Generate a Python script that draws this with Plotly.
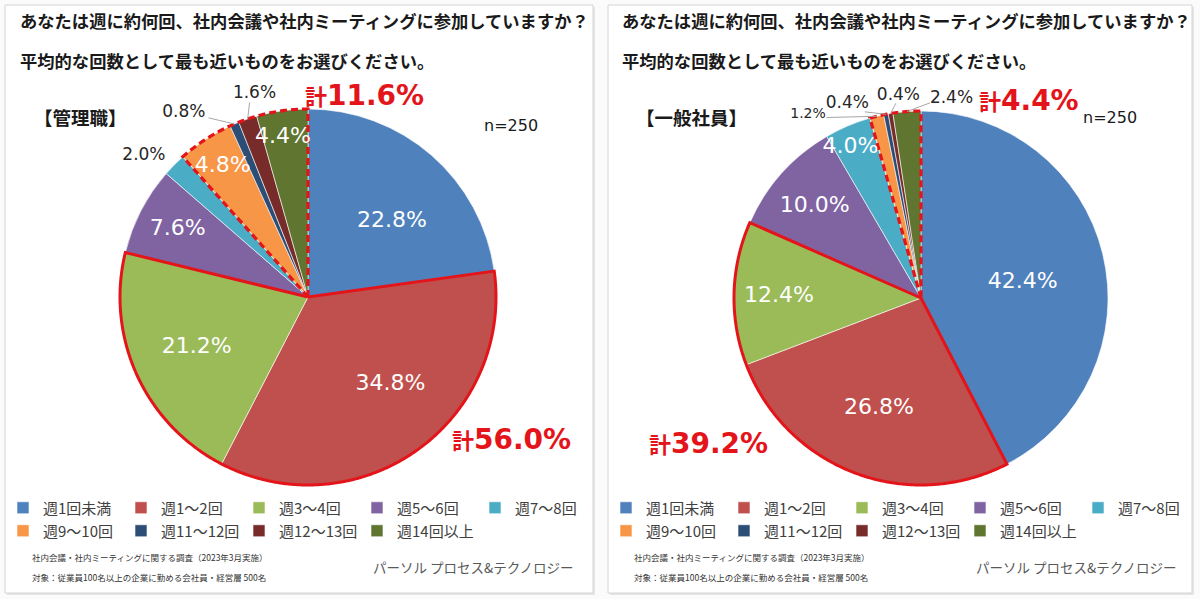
import numpy as np
import plotly.graph_objects as go

# ---------------- data ----------------
CATEGORIES = ["週1回未満", "週1～2回", "週3～4回", "週5～6回", "週7～8回",
              "週9～10回", "週11～12回", "週12～13回", "週14回以上"]
MANAGER_PCT = [22.8, 34.8, 21.2, 7.6, 2.0, 4.8, 0.8, 1.6, 4.4]
STAFF_PCT = [42.4, 26.8, 12.4, 10.0, 4.0, 1.2, 0.4, 0.4, 2.4]
N_MANAGER = 250
N_STAFF = 250
PANEL_NAMES = ["【管理職】", "【一般社員】"]
TITLE_LINE1 = "あなたは週に約何回、社内会議や社内ミーティングに参加していますか？"
TITLE_LINE2 = "平均的な回数として最も近いものをお選びください。"
SOLID_GROUP = [1, 2]        # categories totalled with solid outline
DASH_GROUP = [5, 6, 7, 8]   # categories totalled with dashed outline
FOOTNOTE1 = "社内会議・社内ミーティングに関する調査（2023年3月実施）"
FOOTNOTE2 = "対象：従業員100名以上の企業に勤める会社員・経営層 500名"
BRAND = "パーソル プロセス&テクノロジー"

# ---------------- style ----------------
W, H = 1200, 599
COLORS = ["#4F81BD", "#C0504D", "#9BBB59", "#8064A2", "#4BACC6",
          "#F79646", "#2C4D75", "#772C2A", "#5F7530"]
RED = "#E3151A"
JP = "Noto Sans CJK JP"
NUM = "DejaVu Sans"
RMAX = 1.25

# label placement (r, angle shift from slice middle, outside?, leader end (r, shift) or None, size)
LABEL_STYLE = [
    [(0.60, 7, False, None, 22), (0.64, -8, False, None, 22), (0.65, 0, False, None, 22),
     (0.78, 0, False, None, 22), (1.15, -4, True, None, 17), (0.83, 0, False, None, 22),
     (1.18, -11, True, (1.09, -6), 17), (1.12, 4, True, (1.08, 2), 17), (0.86, -1, False, None, 22)],
    [(0.55, 5, False, None, 22), (0.63, 0, False, None, 22), (0.76, -1, False, None, 22),
     (0.75, -1, False, None, 22), (0.89, -2, False, None, 22), (1.15, -18, True, (1.09, -14), 14),
     (1.11, -10, True, (1.04, -6), 17), (1.09, 3, True, (1.05, 2), 17), (1.08, 13, True, (1.045, 7), 17)],
]

PANELS = [
    dict(values=MANAGER_PCT, n=N_MANAGER, name=PANEL_NAMES[0], cx=308, cy=297, R=188,
         box=(5, 5, 593, 593), title_x=18, name_xy=(80, 117), n_xy=(511, 125),
         solid_xy=(511, 440), dash_xy=(365, 95), leg_x=3, brand_x=575, foot_x=30),
    dict(values=STAFF_PCT, n=N_STAFF, name=PANEL_NAMES[1], cx=921, cy=298, R=187,
         box=(608, 5, 1192, 593), title_x=620, name_xy=(691, 117), n_xy=(1110, 117),
         solid_xy=(708, 443), dash_xy=(1029, 100), leg_x=606, brand_x=1178, foot_x=632),
]


def px(x):
    return x / W


def py(y):
    return 1 - y / H


fig = go.Figure()
shapes = []
annotations = []
layout_extra = {}

for p, panel in enumerate(PANELS):
    vals = np.array(panel["values"], dtype=float)
    total = vals.sum()
    ang = vals / total * 360.0
    start = np.concatenate([[0.0], np.cumsum(ang)[:-1]])
    end = start + ang
    mid = (start + end) / 2
    polar = "polar" if p == 0 else "polar2"

    # panel frame
    x0, y0, x1, y1 = panel["box"]
    shapes.append(dict(type="rect", xref="paper", yref="paper",
                       x0=px(x0 + 2), x1=px(x1 + 2), y0=py(y1 + 2), y1=py(y0 + 2),
                       line=dict(width=0), fillcolor="#e6e6e6", layer="below"))
    shapes.append(dict(type="rect", xref="paper", yref="paper",
                       x0=px(x0), x1=px(x1), y0=py(y1), y1=py(y0),
                       line=dict(color="#d4d4d4", width=1), fillcolor="white", layer="below"))

    # slices
    for i, cat in enumerate(CATEGORIES):
        fig.add_trace(go.Barpolar(
            r=[1.0], theta=[mid[i]], width=[ang[i]], base=0,
            name=cat, subplot=polar,
            marker=dict(color=COLORS[i], line=dict(color="white", width=0.6)),
            legend=("legend" if p == 0 else "legend3") if i < 5 else ("legend2" if p == 0 else "legend4"),
            hoverinfo="skip",
        ))

    # group outlines
    for grp, dash in ((SOLID_GROUP, "solid"), (DASH_GROUP, "7px,4px")):
        a0, a1 = start[grp[0]], end[grp[-1]]
        arc = np.linspace(a0, a1, max(int((a1 - a0) * 2), 4))
        th = np.concatenate([[a0], arc, [a1]])
        rr = np.concatenate([[0.0], np.ones(len(arc)), [0.0]])
        fig.add_trace(go.Scatterpolar(
            r=rr, theta=th, mode="lines", subplot=polar, showlegend=False,
            line=dict(color=RED, width=3 if dash == "solid" else 3.2, dash=dash),
            hoverinfo="skip"))

    # labels
    styles = LABEL_STYLE[p]
    in_r, in_t, in_s = [], [], []
    out_r, out_t, out_s, out_sz = [], [], [], []
    for i, v in enumerate(vals):
        r, dth, outside, leader, size = styles[i]
        txt = f"{v:.1f}%"
        if outside:
            out_r.append(r); out_t.append(mid[i] + dth); out_s.append(txt); out_sz.append(size)
            if leader is not None:
                fig.add_trace(go.Scatterpolar(
                    r=[1.0, leader[0]], theta=[mid[i], mid[i] + leader[1]],
                    mode="lines", subplot=polar, showlegend=False,
                    line=dict(color="#a6a6a6", width=1), hoverinfo="skip", cliponaxis=False))
        else:
            in_r.append(r); in_t.append(mid[i] + dth); in_s.append(txt)
    fig.add_trace(go.Scatterpolar(
        r=in_r, theta=in_t, text=in_s, mode="text", subplot=polar, showlegend=False,
        textfont=dict(family=NUM, size=22, color="white"), hoverinfo="skip", cliponaxis=False))
    fig.add_trace(go.Scatterpolar(
        r=out_r, theta=out_t, text=out_s, mode="text", subplot=polar, showlegend=False,
        textfont=dict(family=NUM, size=out_sz, color="#262626"), hoverinfo="skip", cliponaxis=False))

    # polar layout
    cx, cy, R = panel["cx"], panel["cy"], panel["R"]
    Rp = R * RMAX
    layout_extra[polar] = dict(
        domain=dict(x=[px(cx - Rp), px(cx + Rp)], y=[py(cy + Rp), py(cy - Rp)]),
        bgcolor="rgba(0,0,0,0)", bargap=0, hole=0,
        radialaxis=dict(visible=False, range=[0, RMAX]),
        angularaxis=dict(visible=False, rotation=90, direction="clockwise",
                         showgrid=False, showline=False, ticks=""),
    )

    # texts
    tx = panel["title_x"]
    for k, line in enumerate((TITLE_LINE1, TITLE_LINE2)):
        annotations.append(dict(text=f"<b>{line}</b>", x=px(tx), y=py(21 + 39 * k),
                                xref="paper", yref="paper", xanchor="left", yanchor="middle",
                                showarrow=False, font=dict(family=JP, size=17.3, color="#1a1a1a")))
    nx, ny = panel["name_xy"]
    annotations.append(dict(text=f"<b>{panel['name']}</b>", x=px(nx), y=py(ny),
                            xref="paper", yref="paper", xanchor="center", yanchor="middle",
                            showarrow=False, font=dict(family=JP, size=18.5, color="#1a1a1a")))
    annotations.append(dict(text=f"n={panel['n']}", x=px(panel["n_xy"][0]), y=py(panel["n_xy"][1]),
                            xref="paper", yref="paper", xanchor="center", yanchor="middle",
                            showarrow=False, font=dict(family=NUM, size=16, color="#1a1a1a")))
    for grp, key in ((SOLID_GROUP, "solid_xy"), (DASH_GROUP, "dash_xy")):
        s = vals[grp].sum()
        gx, gy = panel[key]
        annotations.append(dict(
            text=f"<b><span style='font-family:{JP};font-size:22px'>計</span>{s:.1f}%</b>",
            x=px(gx), y=py(gy), xref="paper", yref="paper", xanchor="center", yanchor="middle",
            showarrow=False, font=dict(family=NUM, size=28, color=RED)))
    fxx = panel["foot_x"]
    annotations.append(dict(text=FOOTNOTE1, x=px(fxx), y=py(557), xref="paper", yref="paper",
                            xanchor="left", yanchor="middle", showarrow=False,
                            font=dict(family=JP, size=8.5, color="#333333")))
    annotations.append(dict(text=FOOTNOTE2, x=px(fxx), y=py(577), xref="paper", yref="paper",
                            xanchor="left", yanchor="middle", showarrow=False,
                            font=dict(family=JP, size=8.5, color="#333333")))
    annotations.append(dict(text=BRAND, x=px(panel["brand_x"]), y=py(567), xref="paper", yref="paper",
                            xanchor="right", yanchor="middle", showarrow=False,
                            font=dict(family=JP, size=13.5, color="#595959")))

    # legends
    for row, lname in enumerate((("legend", "legend2") if p == 0 else ("legend3", "legend4"))):
        layout_extra[lname] = dict(
            orientation="h", x=px(panel["leg_x"]), y=py(508 + 23 * row),
            xanchor="left", yanchor="middle", entrywidth=73, entrywidthmode="pixels",
            itemwidth=30, bgcolor="rgba(0,0,0,0)", borderwidth=0,
            font=dict(family=JP, size=15, color="#404040"),
            itemclick=False, itemdoubleclick=False, traceorder="normal",
        )

fig.update_layout(
    width=W, height=H, margin=dict(l=0, r=0, t=0, b=0),
    paper_bgcolor="#fbfbfb", plot_bgcolor="white",
    shapes=shapes, annotations=annotations, showlegend=True,
    **layout_extra,
)

fig.write_html(
    "out.html",
    config={"displayModeBar": False},
    post_script="document.body.style.margin='0px';document.body.style.padding='0px';"
                "document.body.style.overflow='hidden';",
)
